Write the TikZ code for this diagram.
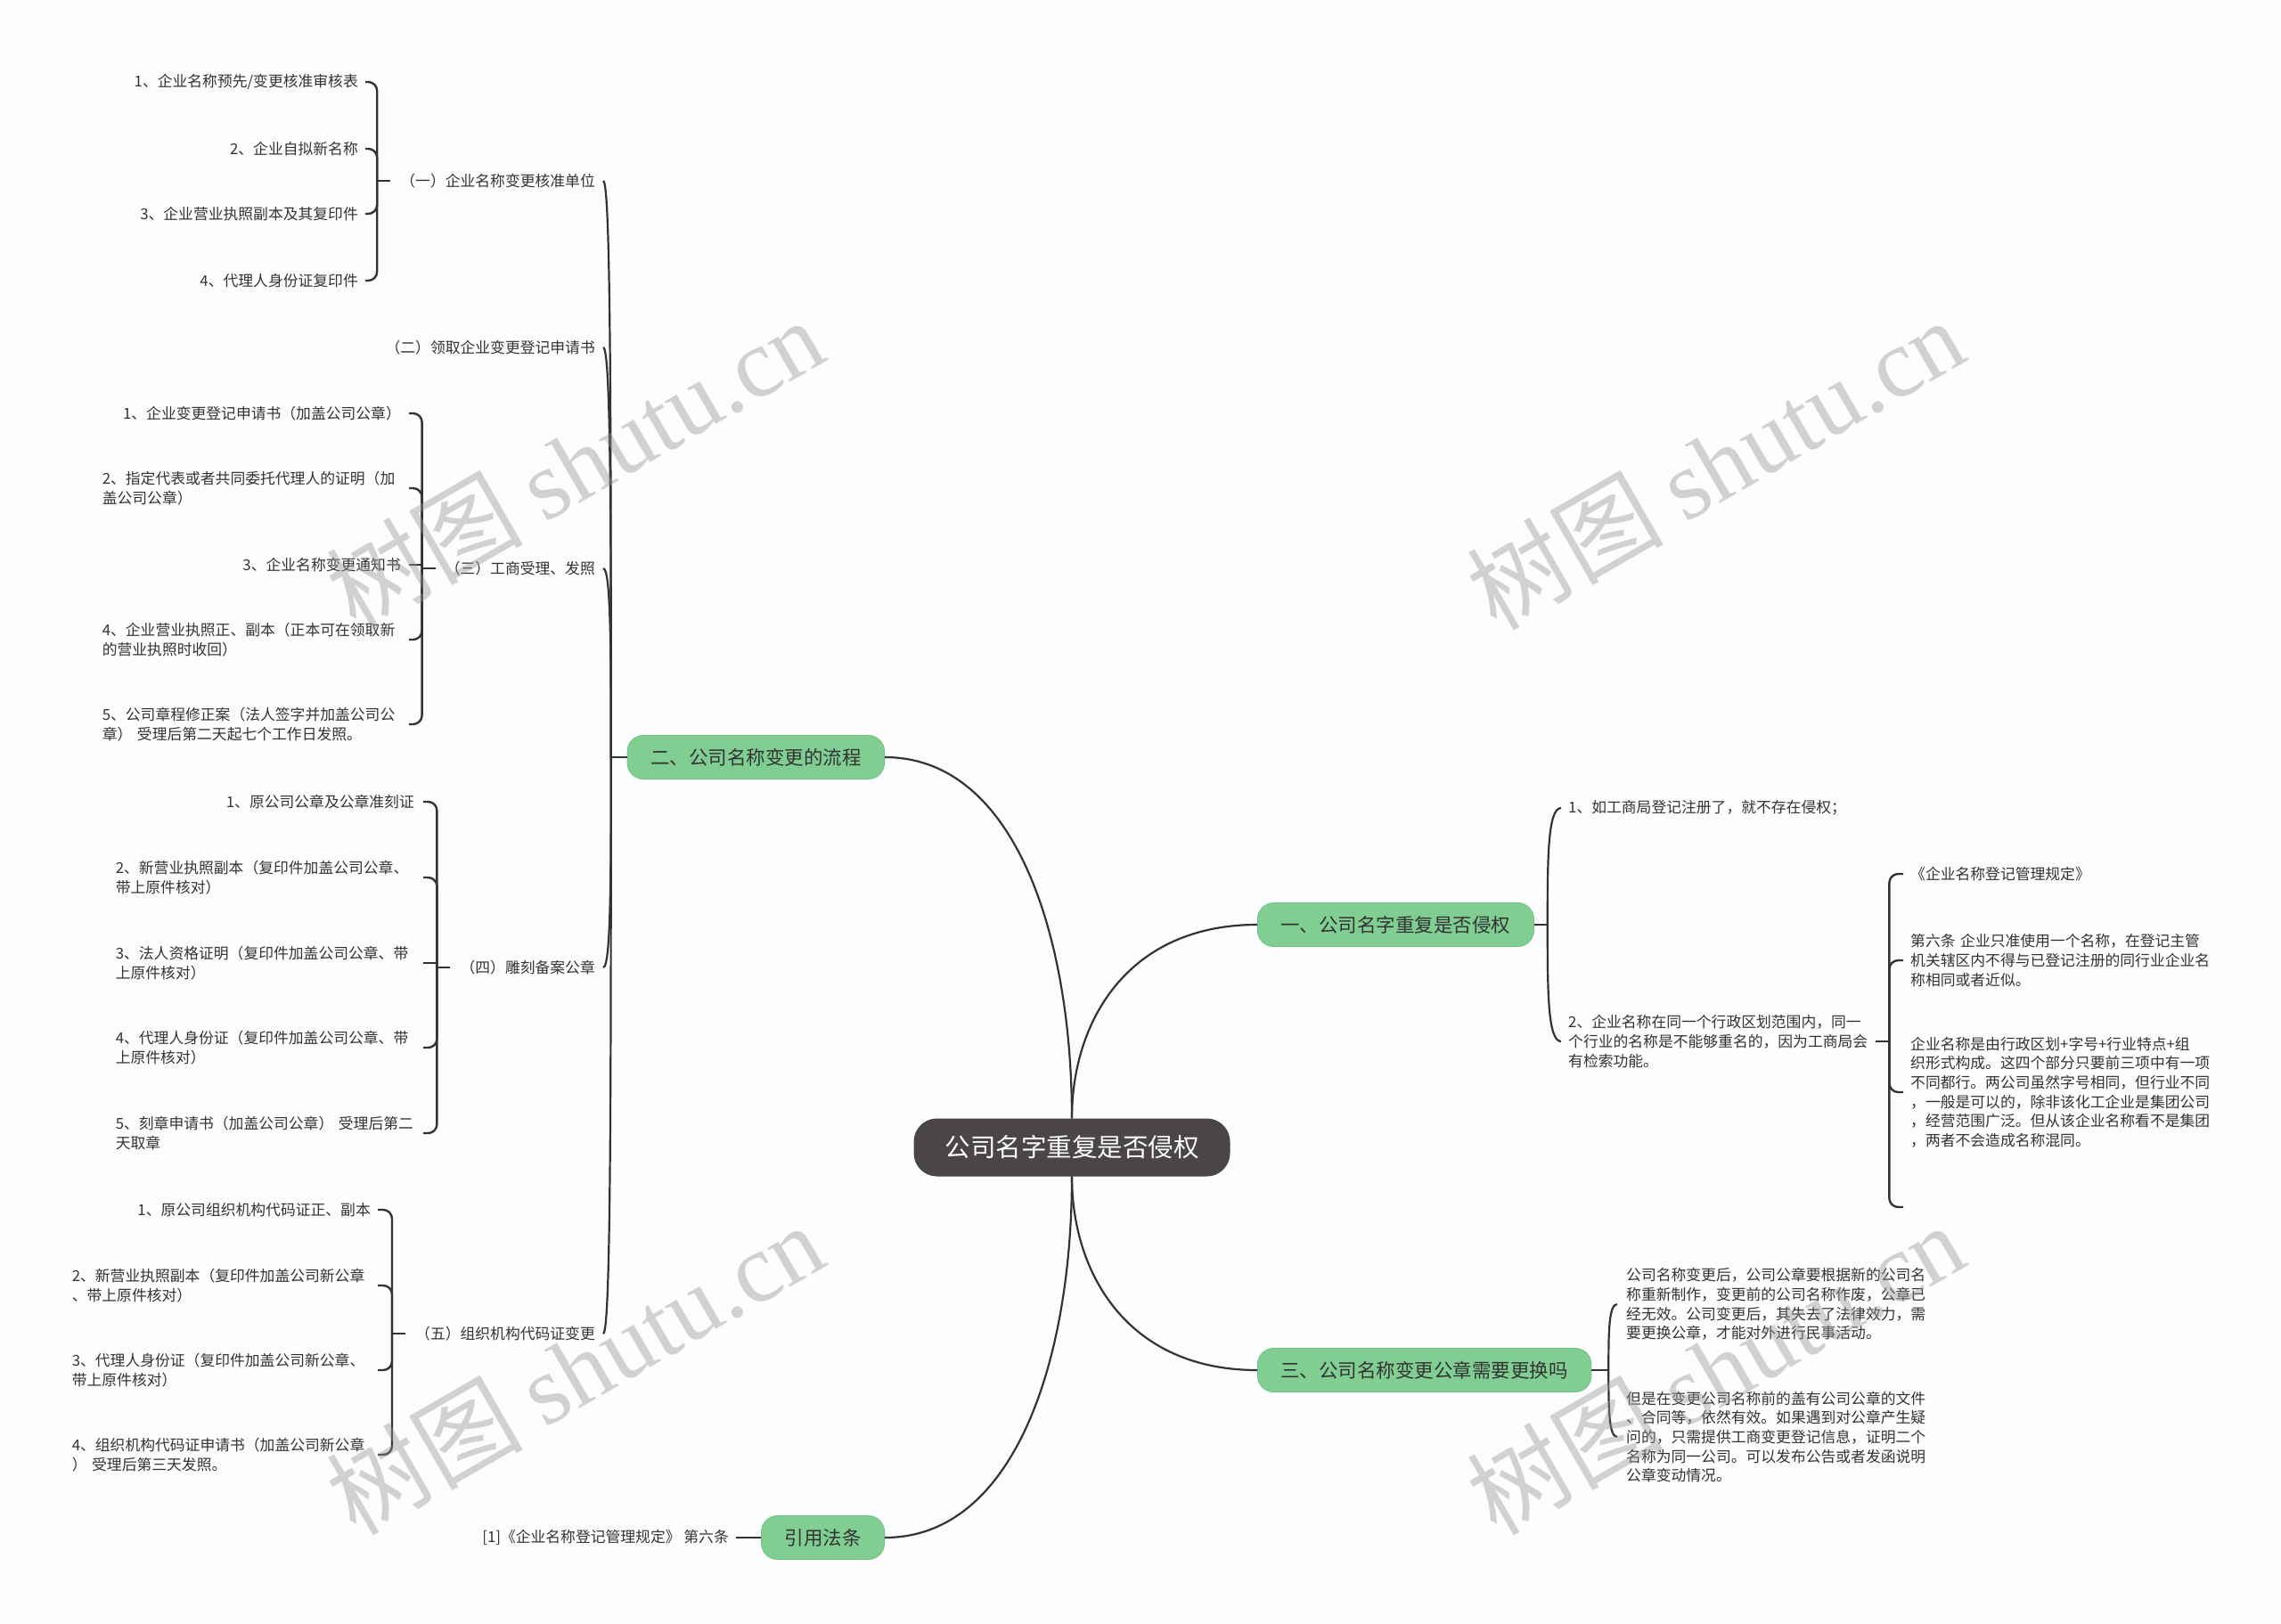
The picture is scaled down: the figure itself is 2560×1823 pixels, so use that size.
\documentclass[tikz,border=0pt]{standalone}
\usepackage{fontspec}
\setmainfont{Noto Sans CJK SC}
\newfontfamily\wmserif{Liberation Serif}
\usetikzlibrary{calc}
\definecolor{bgc}{RGB}{251,253,254}
\definecolor{grn}{RGB}{128,206,146}
\definecolor{grnedge}{RGB}{112,192,132}
\definecolor{rootc}{RGB}{74,70,70}
\definecolor{ink}{RGB}{51,51,51}
\definecolor{wm}{RGB}{150,150,150}
\begin{document}
\begin{tikzpicture}[x=1pt,y=-1pt,
  conn/.style={draw=ink, line width=2.2pt},
  brk/.style={draw=ink, line width=2.4pt, rounded corners=10pt},
  rootnode/.style={fill=rootc, text=white, rounded corners=26pt, minimum height=65pt, inner xsep=35pt, inner ysep=0pt, font=\fontsize{28.5}{34}\selectfont},
  mainnode/.style={fill=grn, draw=grnedge, line width=0.8pt, text=ink, rounded corners=18pt, minimum height=49pt, inner xsep=26pt, inner ysep=0pt, font=\fontsize{21.5}{26}\selectfont},
  txt/.style={text=ink, inner sep=0pt, font=\fontsize{16.8}{21.6}\selectfont},
  lab/.style={txt, align=right},
  labl/.style={txt, align=left},
  para/.style={txt, text width=345pt, align=left},
  lpara/.style={txt, text width=335pt, align=left},
  wmark/.style={text=wm, text opacity=0.42, rotate=30, inner sep=0pt, font=\fontsize{110}{112}\selectfont}
]
\useasboundingbox (0,0) rectangle (2560,1823);
\fill[bgc] (0,0) rectangle (2560,1823);

% ---------- root and main branches ----------
\node[rootnode] (root) at (1203,1288) {公司名字重复是否侵权};
\node[mainnode, anchor=east] (b2) at (993,850) {二、公司名称变更的流程};
\node[mainnode, anchor=west] (b1) at (1411,1038) {一、公司名字重复是否侵权};
\node[mainnode, anchor=west] (b3) at (1411,1538) {三、公司名称变更公章需要更换吗};
\node[mainnode, anchor=east] (b4) at (993,1726) {引用法条};

% ---------- level 2, left ----------
\node[lab, anchor=east] (a1) at (668,203) {（一）企业名称变更核准单位};
\node[lab, anchor=east] (a2) at (668,390) {（二）领取企业变更登记申请书};
\node[lab, anchor=east] (a3) at (668,638) {（三）工商受理、发照};
\node[lab, anchor=east] (a4) at (668,1086) {（四）雕刻备案公章};
\node[lab, anchor=east] (a5) at (668,1497) {（五）组织机构代码证变更};

% ---------- level 3 under (一) ----------
\node[lab, anchor=east] (a1c1) at (402,92) {1、企业名称预先/变更核准审核表};
\node[lab, anchor=east] (a1c2) at (402,167) {2、企业自拟新名称};
\node[lab, anchor=east] (a1c3) at (402,240) {3、企业营业执照副本及其复印件};
\node[lab, anchor=east] (a1c4) at (402,315) {4、代理人身份证复印件};

% ---------- level 3 under (三) ----------
\node[lab, anchor=east] (a3c1) at (450,464) {1、企业变更登记申请书（加盖公司公章）};
\node[lpara, anchor=east] (a3c2) at (450,548) {2、指定代表或者共同委托代理人的证明（加\\盖公司公章）};
\node[lab, anchor=east] (a3c3) at (450,634) {3、企业名称变更通知书};
\node[lpara, anchor=east] (a3c4) at (450,718) {4、企业营业执照正、副本（正本可在领取新\\的营业执照时收回）};
\node[lpara, anchor=east] (a3c5) at (450,813) {5、公司章程修正案（法人签字并加盖公司公\\章） 受理后第二天起七个工作日发照。};

% ---------- level 3 under (四) ----------
\node[lab, anchor=east] (a4c1) at (465,900) {1、原公司公章及公章准刻证};
\node[lpara, anchor=east] (a4c2) at (465,985) {2、新营业执照副本（复印件加盖公司公章、\\带上原件核对）};
\node[lpara, anchor=east] (a4c3) at (465,1081) {3、法人资格证明（复印件加盖公司公章、带\\上原件核对）};
\node[lpara, anchor=east] (a4c4) at (465,1176) {4、代理人身份证（复印件加盖公司公章、带\\上原件核对）};
\node[lpara, anchor=east] (a4c5) at (465,1272) {5、刻章申请书（加盖公司公章） 受理后第二\\天取章};

% ---------- level 3 under (五) ----------
\node[lab, anchor=east] (a5c1) at (416,1358) {1、原公司组织机构代码证正、副本};
\node[lpara, anchor=east] (a5c2) at (416,1443) {2、新营业执照副本（复印件加盖公司新公章\\、带上原件核对）};
\node[lpara, anchor=east] (a5c3) at (416,1538) {3、代理人身份证（复印件加盖公司新公章、\\带上原件核对）};
\node[lpara, anchor=east] (a5c4) at (416,1633) {4、组织机构代码证申请书（加盖公司新公章\\） 受理后第三天发照。};

% ---------- right: branch 一 ----------
\node[labl, anchor=west] (c1) at (1760,907) {1、如工商局登记注册了，就不存在侵权；};
\node[para, anchor=west] (c2) at (1760,1169) {2、企业名称在同一个行政区划范围内，同一\\个行业的名称是不能够重名的，因为工商局会\\有检索功能。};
\node[labl, anchor=west] (d1) at (2144,981) {《企业名称登记管理规定》};
\node[para, anchor=west] (d2) at (2144,1078) {第六条 企业只准使用一个名称，在登记主管\\机关辖区内不得与已登记注册的同行业企业名\\称相同或者近似。};
\node[para, anchor=west] (d3) at (2144,1226) {企业名称是由行政区划+字号+行业特点+组\\织形式构成。这四个部分只要前三项中有一项\\不同都行。两公司虽然字号相同，但行业不同\\，一般是可以的，除非该化工企业是集团公司\\，经营范围广泛。但从该企业名称看不是集团\\，两者不会造成名称混同。};
\coordinate (d4) at (2144,1355);

% ---------- right: branch 三 ----------
\node[para, anchor=west] (e1) at (1825,1464) {公司名称变更后，公司公章要根据新的公司名\\称重新制作，变更前的公司名称作废，公章已\\经无效。公司变更后，其失去了法律效力，需\\要更换公章，才能对外进行民事活动。};
\node[para, anchor=west] (e2) at (1825,1613) {但是在变更公司名称前的盖有公司公章的文件\\、合同等，依然有效。如果遇到对公章产生疑\\问的，只需提供工商变更登记信息，证明二个\\名称为同一公司。可以发布公告或者发函说明\\公章变动情况。};

% ---------- bottom: 引用法条 ----------
\node[lab, anchor=east] (f1) at (818,1726) {[1]《企业名称登记管理规定》 第六条};

% ================= connectors =================
% root -> main branches
\draw[conn] (root.north) .. controls ($(root.north)!0.5!(root.north|-b2.east)$) and ($(root.north|-b2.east)!0.3!(b2.east)$) .. (b2.east);
\draw[conn] (root.north) .. controls ($(root.north)!0.5!(root.north|-b1.west)$) and ($(root.north|-b1.west)!0.3!(b1.west)$) .. (b1.west);
\draw[conn] (root.south) .. controls ($(root.south)!0.5!(root.south|-b3.west)$) and ($(root.south|-b3.west)!0.3!(b3.west)$) .. (b3.west);
\draw[conn] (root.south) .. controls ($(root.south)!0.5!(root.south|-b4.east)$) and ($(root.south|-b4.east)!0.3!(b4.east)$) .. (b4.east);

% b2 -> (一)...(五)
\coordinate (b2s) at ($(b2.west)+(-18,0)$);
\draw[conn] (b2.west) -- (b2s);
\foreach \n in {a1,a2,a3,a4,a5}{
  \draw[conn] (b2s) .. controls ($(b2s)!0.55!(b2s|-\n.east)$) and (b2s|-\n.east) .. ([xshift=9pt]\n.east);
}

% b1 -> c1, c2
\coordinate (b1s) at ($(b1.east)+(15,0)$);
\draw[conn] (b1.east) -- (b1s);
\foreach \n in {c1,c2}{
  \draw[conn] (b1s) .. controls ($(b1s)!0.55!(b1s|-\n.west)$) and (b1s|-\n.west) .. ([xshift=-8pt]\n.west);
}

% b3 -> e1, e2
\coordinate (b3s) at ($(b3.east)+(19,0)$);
\draw[conn] (b3.east) -- (b3s);
\foreach \n in {e1,e2}{
  \draw[conn] (b3s) .. controls ($(b3s)!0.55!(b3s|-\n.west)$) and (b3s|-\n.west) .. ([xshift=-10pt]\n.west);
}

% b4 -> f1
\draw[conn] (b4.west) -- ([xshift=8pt]f1.east);

% (一) bracket
\coordinate (a1p) at ($(a1.west)+(-11,0)$);
\coordinate (a1b) at ($(a1p)+(-15,0)$);
\draw[brk] (a1p) -- (a1b);
\foreach \n in {a1c1,a1c2,a1c3,a1c4}{
  \draw[brk] (a1b) |- ([xshift=8pt]\n.east);
}

% (三) bracket
\coordinate (a3p) at ($(a3.west)+(-11,0)$);
\coordinate (a3b) at ($(a3p)+(-15,0)$);
\draw[brk] (a3p) -- (a3b);
\foreach \n in {a3c1,a3c2,a3c4,a3c5}{
  \draw[brk] (a3b) |- ([xshift=9pt]\n.east);
}
\draw[brk] (a3b|-a3c3.east) -- ([xshift=9pt]a3c3.east);

% (四) bracket
\coordinate (a4p) at ($(a4.west)+(-11,0)$);
\coordinate (a4b) at ($(a4p)+(-15,0)$);
\draw[brk] (a4p) -- (a4b);
\foreach \n in {a4c1,a4c2,a4c4,a4c5}{
  \draw[brk] (a4b) |- ([xshift=10pt]\n.east);
}
\draw[brk] (a4b|-a4c3.east) -- ([xshift=10pt]a4c3.east);

% (五) bracket
\coordinate (a5p) at ($(a5.west)+(-11,0)$);
\coordinate (a5b) at ($(a5p)+(-15,0)$);
\draw[brk] (a5p) -- (a5b);
\foreach \n in {a5c1,a5c2,a5c3,a5c4}{
  \draw[brk] (a5b) |- ([xshift=8pt]\n.east);
}

% c2 bracket
\coordinate (c2p) at ($(c2.east)+(0,0)$);
\coordinate (c2b) at ($(c2p)+(15,0)$);
\draw[brk] (c2p) -- (c2b);
\foreach \n in {d1,d2,d3}{
  \draw[brk] (c2b) |- ([xshift=-8pt]\n.west);
}
\draw[brk] (c2b) |- ([xshift=-8pt]d4);

% ================= watermarks =================
\node[wmark] (w1) at (645,520) {树图 {\wmserif shutu.cn}};
\node[wmark] (w2) at (1925,520) {树图 {\wmserif shutu.cn}};
\node[wmark] (w3) at (645,1536) {树图 {\wmserif shutu.cn}};
\node[wmark] (w4) at (1925,1536) {树图 {\wmserif shutu.cn}};
\end{tikzpicture}
\end{document}
